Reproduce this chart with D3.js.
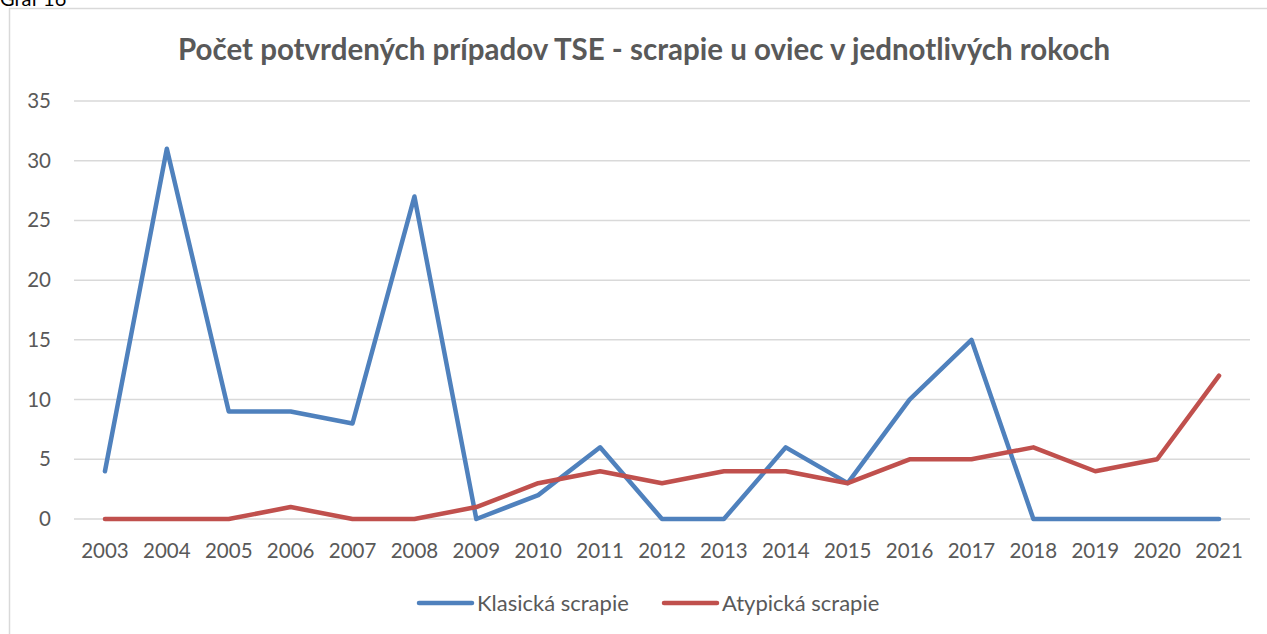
<!DOCTYPE html>
<html>
<head>
<meta charset="utf-8">
<script src="https://cdn.jsdelivr.net/npm/d3@7"></script>
<style>
  body { margin: 0; background: #fff; }
  svg { display: block; }
</style>
</head>
<body>
<div id="chart"></div>
<script>
// data
const years = ["2003","2004","2005","2006","2007","2008","2009","2010","2011","2012",
               "2013","2014","2015","2016","2017","2018","2019","2020","2021"];
const klasicka = [4,31,9,9,8,27,0,2,6,0,0,6,3,10,15,0,0,0,0];
const atypicka = [0,0,0,1,0,0,1,3,4,3,4,4,3,5,5,6,4,5,12];
const yTicks = [0,5,10,15,20,25,30,35];
const seriesNames = ["Klasická scrapie", "Atypická scrapie"];
const colors = ["#4F81BD", "#C0504D"];

const width = 1267, height = 634;
const font = "Lato, 'Open Sans', sans-serif";
const svg = d3.select("#chart").append("svg").attr("width", width).attr("height", height);

// caption above the chart box (cut off at top, as in the source)
svg.append("text").attr("x", 0).attr("y", 6)
    .attr("font-family", font).attr("font-size", 20).attr("fill", "#000")
    .text("Graf 16");

// chart frame
svg.append("rect").attr("x", 9.5).attr("y", 8.5).attr("width", 1300).attr("height", 700)
    .attr("fill", "#fff").attr("stroke", "#d9d9d9").attr("stroke-width", 1.5);

const x = d3.scaleBand().domain(years).range([74, 1250]);
const y = d3.scaleLinear().domain([0, 35]).range([519, 101]);

// gridlines
svg.append("g").selectAll("line").data(yTicks).join("line")
    .attr("x1", 74).attr("x2", 1250)
    .attr("y1", d => y(d)).attr("y2", d => y(d))
    .attr("stroke", "#d9d9d9").attr("stroke-width", 1.5);

// y axis labels
const yAxis = svg.append("g").attr("transform", "translate(51,0)")
    .call(d3.axisLeft(y).tickValues(yTicks).tickSize(0).tickPadding(0));
yAxis.select(".domain").remove();
yAxis.selectAll("text").attr("font-family", font).attr("font-size", 20.5).attr("fill", "#595959");

// x axis labels
const xAxis = svg.append("g").attr("transform", "translate(0,543)")
    .call(d3.axisBottom(x).tickSize(0).tickPadding(0));
xAxis.select(".domain").remove();
xAxis.selectAll("text").attr("font-family", font).attr("font-size", 20.5).attr("fill", "#595959");

// lines
const line = d3.line()
    .x((d, i) => x(years[i]) + x.bandwidth() / 2)
    .y(d => y(d));

[klasicka, atypicka].forEach((s, k) => {
    svg.append("path").datum(s)
        .attr("d", line)
        .attr("fill", "none")
        .attr("stroke", colors[k])
        .attr("stroke-width", 4.5)
        .attr("stroke-linejoin", "round")
        .attr("stroke-linecap", "round");
});

// title
svg.append("text").attr("x", 644).attr("y", 60)
    .attr("text-anchor", "middle")
    .attr("font-family", font).attr("font-weight", "bold").attr("font-size", 29.5)
    .attr("fill", "#595959")
    .text("Počet potvrdených prípadov TSE - scrapie u oviec v jednotlivých rokoch");

// legend
const legendX = [417, 662];
seriesNames.forEach((name, k) => {
    const g = svg.append("g").attr("transform", `translate(${legendX[k]},603)`);
    g.append("line").attr("x1", 2).attr("x2", 55)
        .attr("stroke", colors[k]).attr("stroke-width", 4.5).attr("stroke-linecap", "round");
    g.append("text").attr("x", 60).attr("y", 7.5)
        .attr("font-family", font).attr("font-size", 22).attr("fill", "#595959")
        .text(name);
});
</script>
</body>
</html>
